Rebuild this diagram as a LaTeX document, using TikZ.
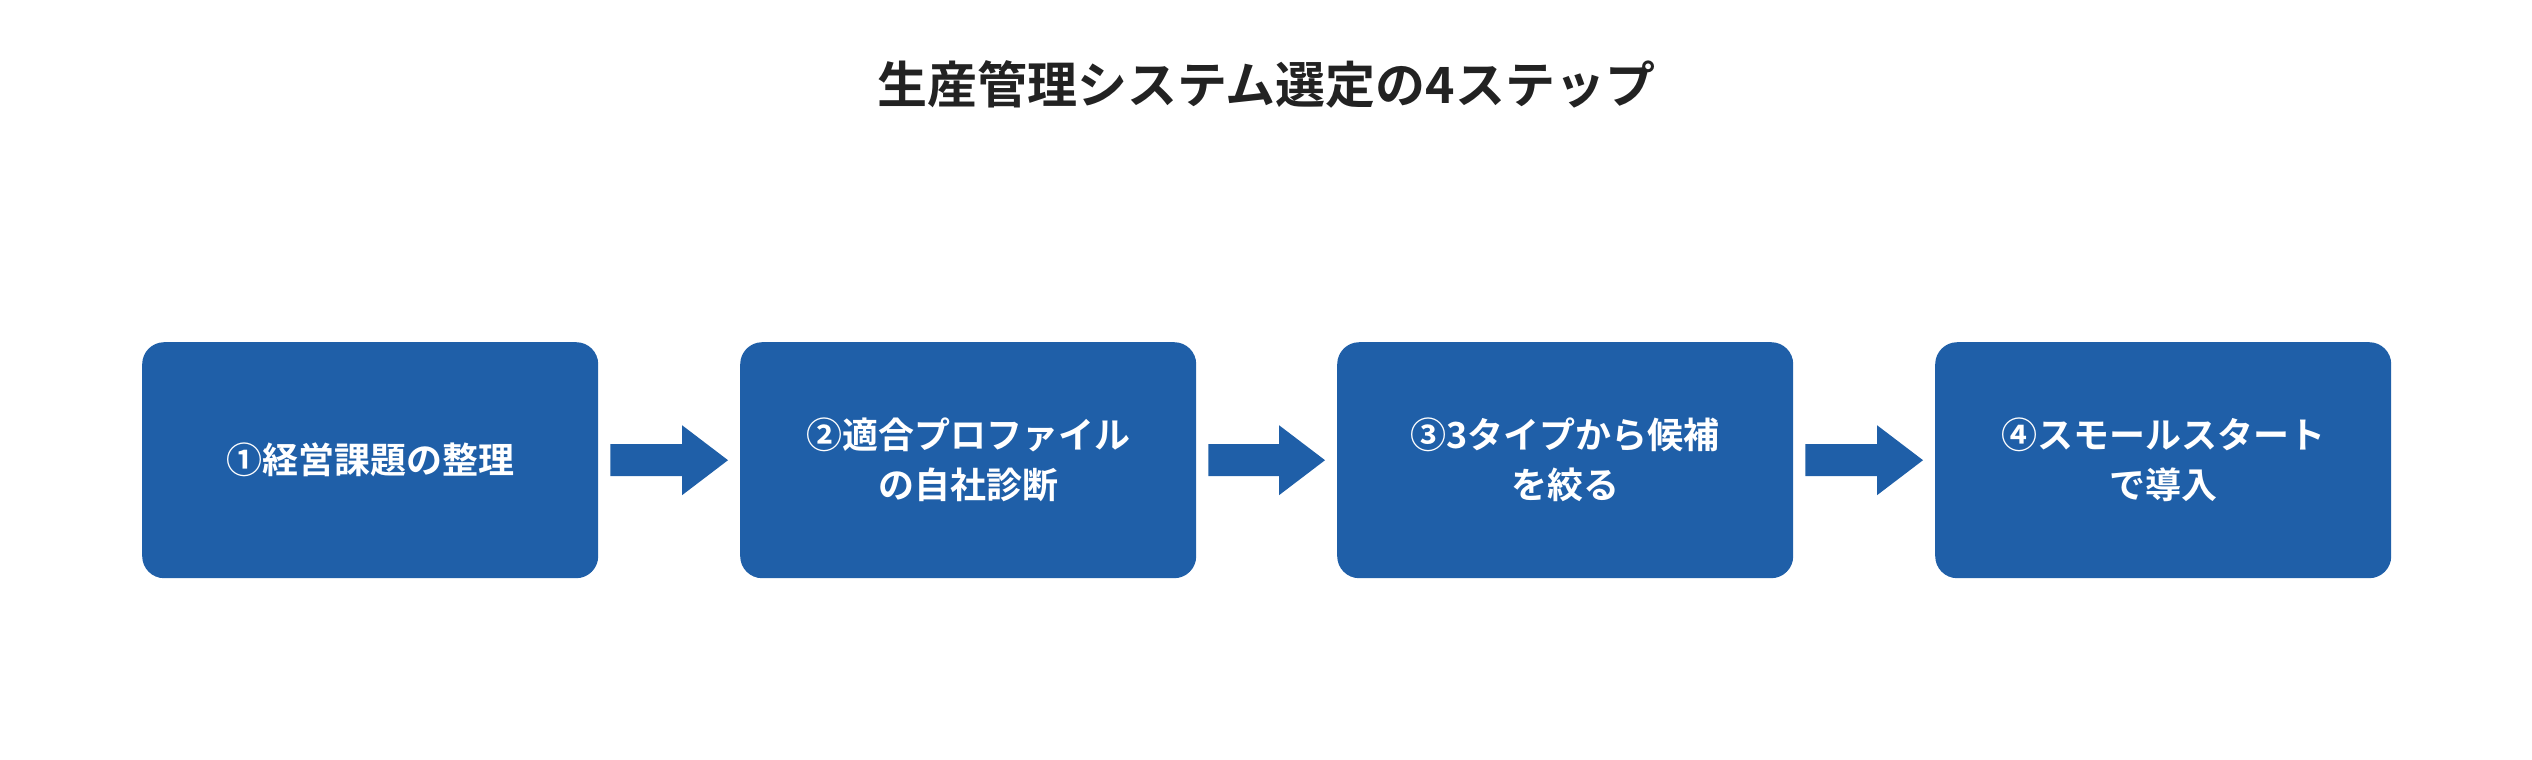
\documentclass[tikz,border=0pt]{standalone}
\usepackage{fontspec}
\usetikzlibrary{calc}
\newfontfamily\cjk{Noto Sans CJK JP}[BoldFont={* Bold}]
\definecolor{boxblue}{HTML}{1F5FA8}
\definecolor{titlec}{HTML}{222222}
\begin{document}
\begin{tikzpicture}[x=1pt,y=-1pt,
  stepbox/.style={fill=boxblue,rounded corners=22pt,minimum width=456pt,minimum height=236pt,inner sep=0pt,
    text=white,font=\cjk\bfseries\fontsize{36}{50}\selectfont,align=center,anchor=north west},
  arr/.style={fill=boxblue,draw=none}]
\useasboundingbox (0,0) rectangle (2532,760);
\node[font=\cjk\bfseries\fontsize{50}{60}\selectfont,text=titlec] (t) at (1266,84) {生産管理システム選定の4ステップ};
\node[stepbox] (b1) at (142,342) {①経営課題の整理};
\node[stepbox] (b2) at (740,342) {②適合プロファイル\\の自社診断};
\node[stepbox] (b3) at (1337,342) {③3タイプから候補\\を絞る};
\node[stepbox] (b4) at (1935,342) {④スモールスタート\\で導入};
\foreach \a/\b in {b1/b2,b2/b3,b3/b4}{
  \path (\a.east) ++(12,0) coordinate (s) (\b.west) ++(-12,0) coordinate (e);
  \fill[arr] ($(s)+(0,-16)$) -- ($(e)+(-46,-16)$) -- ($(e)+(-46,-35)$) -- (e) -- ($(e)+(-46,35)$) -- ($(e)+(-46,16)$) -- ($(s)+(0,16)$) -- cycle;
}
\end{tikzpicture}
\end{document}
